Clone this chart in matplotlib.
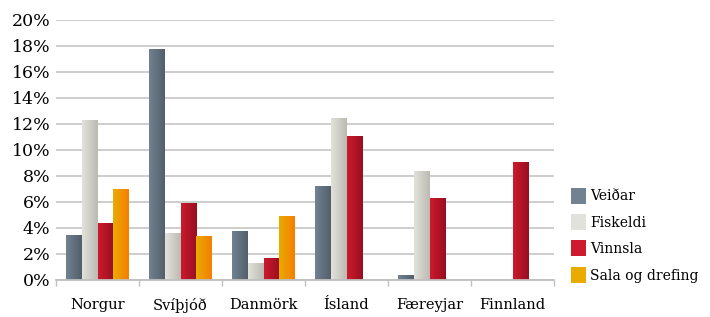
import numpy as np
import matplotlib
matplotlib.use("Agg")
import matplotlib.pyplot as plt
from matplotlib.colors import LinearSegmentedColormap
from matplotlib.patches import Patch

# data (percent)
countries = ["Norgur", "Svíþjóð", "Danmörk", "Ísland", "Færeyjar", "Finnland"]
veidar = [3.5, 17.8, 3.8, 7.2, 0.4, 0.0]
fiskeldi = [12.3, 3.6, 1.3, 12.5, 8.4, 0.0]
vinnsla = [4.4, 5.9, 1.7, 11.1, 6.3, 9.1]
sala = [7.0, 3.4, 4.9, 0.0, 0.0, 0.0]
series_names = ["Veiðar", "Fiskeldi", "Vinnsla", "Sala og drefing"]
yticks = [0, 2, 4, 6, 8, 10, 12, 14, 16, 18, 20]

# left/right gradient colours for each series
grads = [("#718292", "#535e6a"), ("#e2e2dc", "#bbbbb3"),
         ("#cc1a2e", "#980f1f"), ("#e9ab00", "#f57e00")]

plt.rcParams["font.family"] = ["DejaVu Serif"]

fig = plt.figure(figsize=(7.10, 3.17), dpi=100)
ax = fig.add_axes([56 / 710, 37 / 317, 498 / 710, 260 / 317])

x = np.arange(len(countries))
w = 0.1875
data = [veidar, fiskeldi, vinnsla, sala]

grad = np.linspace(0, 1, 64).reshape(1, -1)
for i, (vals, name, (c1, c2)) in enumerate(zip(data, series_names, grads)):
    cmap = LinearSegmentedColormap.from_list(name, [c1, c2])
    bars = ax.bar(x + (i - 1.5) * w, vals, w, color=c2, linewidth=0, zorder=3)
    for b in bars:
        if b.get_height() <= 0:
            continue
        x0, y0 = b.get_x(), b.get_y()
        im = ax.imshow(grad, cmap=cmap, aspect="auto", zorder=4,
                       extent=[x0, x0 + b.get_width(), y0, y0 + b.get_height()])
        im.set_clip_path(b)

ax.set_xlim(-0.5, len(countries) - 0.5)
ax.set_ylim(0, 20)
ax.set_yticks(yticks)
ax.set_yticklabels([f"{t}%" for t in yticks], fontsize=12.5)
ax.set_xticks(x)
ax.set_xticklabels(countries, fontsize=10.5)
ax.set_xticks(np.arange(-0.5, len(countries)), minor=True)
ax.tick_params(axis="x", which="major", length=0, pad=13)
ax.tick_params(axis="x", which="minor", length=4, color="#bfbfbf", width=1)
ax.tick_params(axis="y", length=0, pad=4)

ax.grid(axis="y", color="#c9c9c9", linewidth=1.3, zorder=0)
for s in ["top", "right", "left"]:
    ax.spines[s].set_visible(False)
ax.spines["bottom"].set_color("#bfbfbf")
ax.spines["bottom"].set_linewidth(1.3)
ax.spines["bottom"].set_zorder(5)

handles = [Patch(facecolor=c1, label=n) for (c1, c2), n in zip(grads, series_names)]
fig.legend(handles=handles, loc="center left", bbox_to_anchor=(0.797, 0.258),
           frameon=False, fontsize=10, handlelength=1.05, handleheight=1.4,
           handletextpad=0.3, labelspacing=0.75, borderaxespad=0)

fig.savefig("out.png", dpi=100)
